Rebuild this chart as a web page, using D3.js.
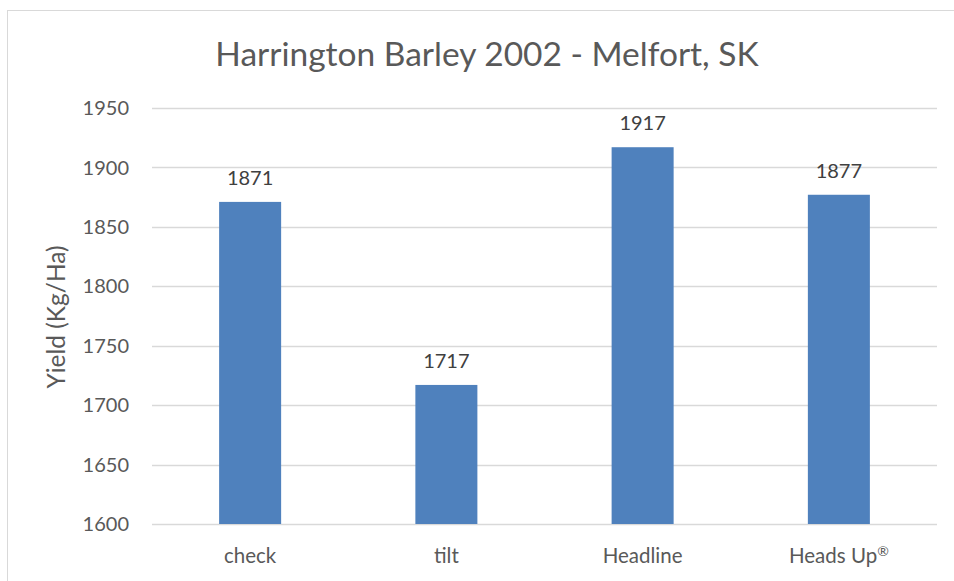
<!DOCTYPE html>
<html>
<head>
<meta charset="utf-8">
<script src="https://cdn.jsdelivr.net/npm/d3@7"></script>
<style>
  body { margin: 0; background: #fff; }
  text { font-family: Lato, "Open Sans", sans-serif; fill: #595959; }
</style>
</head>
<body>
<div id="chart"></div>
<script>
const categories = ["check", "tilt", "Headline", "Heads Up®"];
const yields = [1871, 1717, 1917, 1877];
const yTicks = [1600, 1650, 1700, 1750, 1800, 1850, 1900, 1950];

const width = 954, height = 581;
const margin = { top: 108, right: 17, bottom: 57, left: 152 };

const svg = d3.select("#chart").append("svg")
  .attr("width", width)
  .attr("height", height);

// chart frame (only top/left visible in the picture)
svg.append("rect")
  .attr("x", 7.5).attr("y", 10.5)
  .attr("width", 960).attr("height", 600)
  .attr("fill", "none")
  .attr("stroke", "#d9d9d9");

let x = d3.scaleBand()
  .domain(categories)
  .range([margin.left, width - margin.right])
  .paddingInner(0.684)
  .paddingOuter(0.342);

let y = d3.scaleLinear()
  .domain([1600, 1950])
  .range([height - margin.bottom, margin.top]);

// gridlines
svg.append("g")
  .selectAll("line")
  .data(yTicks)
  .join("line")
  .attr("x1", margin.left)
  .attr("x2", width - margin.right)
  .attr("y1", d => Math.round(y(d)) + 0.5)
  .attr("y2", d => Math.round(y(d)) + 0.5)
  .attr("stroke", "#d9d9d9")
  .attr("stroke-width", 1.3);

// y tick labels
svg.append("g")
  .selectAll("text")
  .data(yTicks)
  .join("text")
  .attr("x", 129)
  .attr("y", d => y(d))
  .attr("dy", "0.36em")
  .attr("text-anchor", "end")
  .attr("font-size", "20px")
  .text(d => d);

// bars
svg.append("g")
  .selectAll("rect")
  .data(yields)
  .join("rect")
  .attr("x", (d, i) => x(categories[i]))
  .attr("width", x.bandwidth())
  .attr("y", d => y(d))
  .attr("height", d => y(1600) - y(d))
  .attr("fill", "#4f81bd");

// value labels
svg.append("g")
  .selectAll("text")
  .data(yields)
  .join("text")
  .attr("x", (d, i) => x(categories[i]) + x.bandwidth() / 2)
  .attr("y", d => y(d) - 17)
  .attr("text-anchor", "middle")
  .attr("font-size", "20px")
  .attr("fill", "#404040")
  .style("fill", "#404040")
  .text(d => d);

// category labels (® drawn small and raised, like the original)
svg.append("g")
  .selectAll("text")
  .data(categories)
  .join("text")
  .attr("x", d => x(d) + x.bandwidth() / 2)
  .attr("y", 563)
  .attr("text-anchor", "middle")
  .attr("font-size", "20.5px")
  .each(function (d) {
    let t = d3.select(this);
    let parts = d.split("®");
    t.append("tspan").text(parts[0]);
    if (parts.length > 1) {
      t.append("tspan")
        .attr("font-size", "14px")
        .attr("dy", "-7")
        .text("®");
    }
  });

// title
svg.append("text")
  .attr("x", 487)
  .attr("y", 66)
  .attr("text-anchor", "middle")
  .attr("font-size", "33.5px")
  .text("Harrington Barley 2002 - Melfort, SK");

// y axis title
svg.append("text")
  .attr("transform", "translate(65,317) rotate(-90)")
  .attr("text-anchor", "middle")
  .attr("font-size", "24.5px")
  .text("Yield (Kg/Ha)");
</script>
</body>
</html>
